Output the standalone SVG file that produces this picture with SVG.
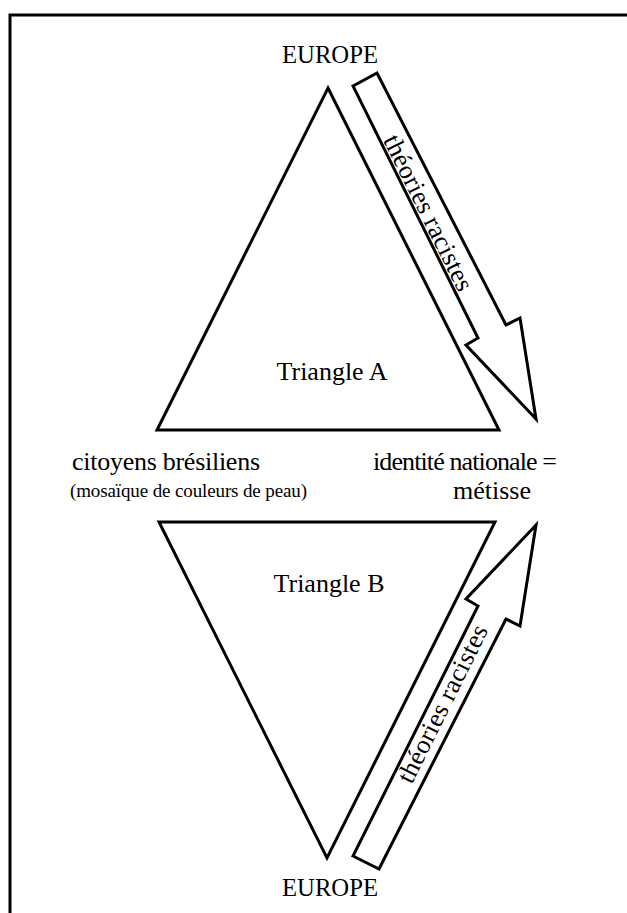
<svg xmlns="http://www.w3.org/2000/svg" width="627" height="913" viewBox="0 0 627 913">
<style>
.sh{fill:#fff;stroke:#000;stroke-width:3;stroke-linejoin:miter}
.t{font-family:"Liberation Serif","Times New Roman",serif;font-size:26px;fill:#000}
.s{font-size:19px}
.m{text-anchor:middle}
</style>
<rect width="627" height="913" fill="#fff"/>
<path d="M10,913 V15 H627" fill="none" stroke="#000" stroke-width="3"/>
<g id="triangleA">
<polygon class="sh" points="328,88 499,430 157,430"/>
<text class="t m" x="332" y="380">Triangle A</text>
</g>
<g id="triangleB">
<polygon class="sh" points="159,522 495,522 327,858"/>
<text class="t m" x="329" y="592">Triangle B</text>
</g>
<g id="europe-top">
<text class="t m" x="330" y="63" textLength="96" lengthAdjust="spacingAndGlyphs">EUROPE</text>
</g>
<g id="europe-bottom">
<text class="t m" x="330" y="896" textLength="96" lengthAdjust="spacingAndGlyphs">EUROPE</text>
</g>
<g id="citoyens">
<text class="t" x="72" y="470" textLength="188">citoyens brésiliens</text>
<text class="t s" x="70" y="497" textLength="237">(mosaïque de couleurs de peau)</text>
</g>
<g id="identite">
<text class="t" x="373" y="470" textLength="184">identité nationale =</text>
<text class="t m" x="492" y="499">métisse</text>
</g>
<g id="connectors">
<g id="arrow-top">
<polygon class="sh" points="353,86 377,73 506,325 520,318 536,419 466,345 478,338"/>
<text class="t m" transform="translate(428,213) rotate(63.6)" y="8" textLength="171">théories racistes</text>
</g>
<g id="arrow-bottom">
<polygon class="sh" points="353,856 379,869 506,619 520,626 536,525 466,599 478,606"/>
<text class="t m" transform="translate(443,704) rotate(-63.6)" y="8" textLength="173">théories racistes</text>
</g>
</g>
</svg>
